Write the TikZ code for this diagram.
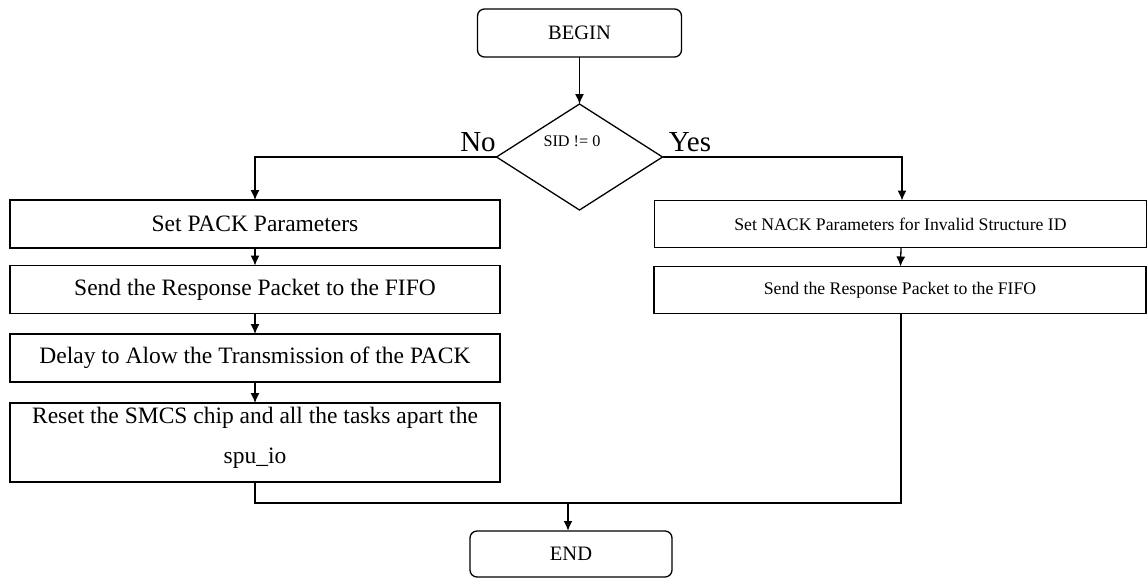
\documentclass[tikz,border=0pt]{standalone}
\usepackage{fontspec}
\setmainfont{Liberation Serif}
\usetikzlibrary{shapes.geometric,arrows.meta}
\begin{document}
\begin{tikzpicture}[x=1pt,y=1pt,
  every node/.style={inner sep=0pt,outer sep=0pt},
  term/.style={draw,line width=1.3pt,rounded corners=7pt,minimum width=204pt,minimum height=48pt,font=\fontsize{20.5pt}{24pt}\selectfont},
  lbox/.style={draw,line width=1.3pt,minimum width=490pt,minimum height=48pt,font=\fontsize{23.5pt}{28pt}\selectfont},
  rbox/.style={draw,line width=1.3pt,minimum width=492pt,minimum height=47pt,font=\fontsize{17.7pt}{21pt}\selectfont},
  dec/.style={draw,diamond,line width=1.3pt,minimum width=166pt,minimum height=106pt},
  flow/.style={line width=1.3pt,-{Latex[length=10pt,width=9pt]}},
  plain/.style={line width=1.3pt},
  yn/.style={font=\fontsize{29pt}{32pt}\selectfont,anchor=base}
]
\useasboundingbox (0,0) rectangle (1147,-579);

\node[term] (begin) at (579.5,-33) {BEGIN};
\node[dec] (sid) at (579.5,-157) {};
\node[font=\fontsize{16.2pt}{19pt}\selectfont] (sidt) at (572,-141) {SID != 0};
\node[yn] (no) at (478,-151) {No};
\node[yn] (yes) at (690,-151) {Yes};

\node[lbox] (pack) at (255,-224) {Set PACK Parameters};
\node[lbox] (send1) at (255,-289.5) {Send the Response Packet to the FIFO};
\node[lbox] (delay) at (255,-358) {Delay to Alow the Transmission of the PACK};
\node[lbox,minimum height=79pt] (reset) at (255,-442.5) {};
\node[font=\fontsize{23.5pt}{40pt}\selectfont,align=center] (resett) at (255,-438) {Reset the SMCS chip and all the tasks apart the\\spu\_io};

\node[rbox] (nack) at (900.5,-224) {Set NACK Parameters for Invalid Structure ID};
\node[rbox] (send2) at (900,-290) {Send the Response Packet to the FIFO};

\node[term,minimum width=202pt,minimum height=46pt] (end) at (571,-554) {END};

\coordinate (m) at (568,-503);

\draw[flow] (begin) -- (sid);
\draw[flow] (sid.west) -| (pack.north);
\draw[flow] (sid.east) -| ([xshift=1.5pt]nack.north);
\draw[flow] (pack) -- (send1);
\draw[flow] (send1) -- (delay);
\draw[flow] (delay) -- (reset);
\draw[flow] ([xshift=0.5pt]nack.south) -- ([xshift=0.5pt]send2.north);
\draw[plain] (reset.south) |- (m);
\draw[plain] ([xshift=1pt]send2.south) |- (m);
\draw[flow,line width=2.4pt] (m) -- (m |- end.north);
\end{tikzpicture}
\end{document}
